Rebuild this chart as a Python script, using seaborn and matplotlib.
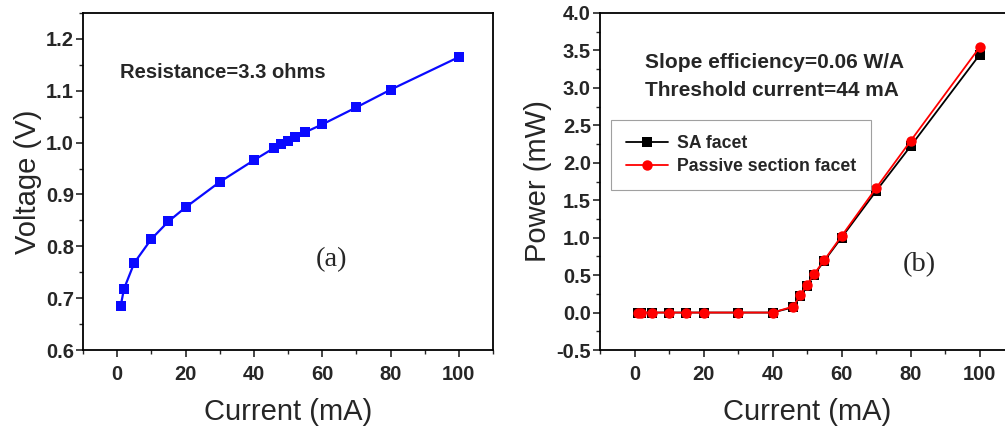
import numpy as np
import pandas as pd
import matplotlib
matplotlib.use("Agg")
import matplotlib.pyplot as plt
from matplotlib.ticker import MultipleLocator
import seaborn as sns

# Drive current (mA)
current = [1, 2, 5, 10, 15, 20, 30, 40, 46, 48, 50, 52, 55, 60, 70, 80, 100]
# Forward voltage (V)
voltage = [0.684, 0.718, 0.768, 0.814, 0.848, 0.875, 0.924, 0.966, 0.990, 0.997,
           1.003, 1.011, 1.020, 1.035, 1.068, 1.102, 1.165]
# Output power (mW) from each facet
power_sa = [0, 0, 0, 0, 0, 0, 0, 0, 0.07, 0.22, 0.36, 0.50, 0.69, 1.00, 1.62, 2.22, 3.44]
power_passive = [0, 0, 0, 0, 0, 0, 0, 0, 0.08, 0.23, 0.37, 0.51, 0.70, 1.02, 1.66, 2.29, 3.54]
series_names = ["SA facet", "Passive section facet"]

sns.set_style("ticks")
plt.rcParams["font.family"] = ["Liberation Sans", "DejaVu Sans"]
plt.rcParams["axes.linewidth"] = 1.3
plt.rcParams["axes.unicode_minus"] = False

fig = plt.figure(figsize=(10.05, 4.33), dpi=100)
W, H = 1005, 433
ax1 = fig.add_axes([83 / W, 1 - 350 / H, 410 / W, 337 / H])
ax2 = fig.add_axes([600 / W, 1 - 350 / H, 414 / W, 337 / H])

# (a) voltage vs current
iv = pd.DataFrame({"Current": current, "Voltage": voltage})
sns.lineplot(data=iv, x="Current", y="Voltage", ax=ax1, color="#0a0aff",
             marker="s", markersize=7, markeredgewidth=0, linewidth=1.6)
ax1.set_xlim(-10, 110)
ax1.set_ylim(0.6, 1.25)
ax1.xaxis.set_major_locator(MultipleLocator(20))
ax1.xaxis.set_minor_locator(MultipleLocator(10))
ax1.yaxis.set_minor_locator(MultipleLocator(0.05))
ax1.set_yticks([0.6, 0.7, 0.8, 0.9, 1.0, 1.1, 1.2])
ax1.set_yticklabels(["0.6", "0.7", "0.8", "0.9", "1.0", "1.1", "1.2"])
ax1.set_xlabel("Current (mA)", fontsize=21)
ax1.set_ylabel("Voltage (V)", fontsize=21)
ax1.text((120 - 83) / 410, 1 - (73 - 13) / 337, "Resistance=3.3 ohms",
         transform=ax1.transAxes, fontsize=14.5, fontweight="bold",
         va="center", ha="left")
ax1.text((331 - 83) / 410, 1 - (260 - 13) / 337, "(a)", transform=ax1.transAxes,
         fontsize=20.5, family="Liberation Serif", va="center", ha="center")

# (b) power vs current
li = pd.DataFrame({
    "Current": current * 2,
    "Power": power_sa + power_passive,
    "Facet": [series_names[0]] * len(current) + [series_names[1]] * len(current),
})
sns.lineplot(data=li, x="Current", y="Power", hue="Facet", style="Facet",
             palette={series_names[0]: "black", series_names[1]: "#ff0000"},
             markers={series_names[0]: "s", series_names[1]: "o"},
             dashes=False, markersize=7.5, markeredgewidth=0, linewidth=1.3, ax=ax2)
ax2.set_xlim(-10, 110)
ax2.set_ylim(-0.5, 4.0)
ax2.xaxis.set_major_locator(MultipleLocator(20))
ax2.xaxis.set_minor_locator(MultipleLocator(10))
ax2.yaxis.set_major_locator(MultipleLocator(0.5))
ax2.yaxis.set_minor_locator(MultipleLocator(0.25))
ax2.set_xlabel("Current (mA)", fontsize=21)
ax2.set_ylabel("Power (mW)", fontsize=21)
ax2.text((645 - 600) / 414, 1 - (63 - 13) / 337, "Slope efficiency=0.06 W/A",
         transform=ax2.transAxes, fontsize=15, fontweight="bold", va="center", ha="left")
ax2.text((645 - 600) / 414, 1 - (90 - 13) / 337, "Threshold current=44 mA",
         transform=ax2.transAxes, fontsize=15, fontweight="bold", va="center", ha="left")
ax2.text((919 - 600) / 414, 1 - (265 - 13) / 337, "(b)", transform=ax2.transAxes,
         fontsize=20.5, family="Liberation Serif", va="center", ha="center")
leg = ax2.legend(title=None, loc="upper left",
                 bbox_to_anchor=((611 - 600) / 414, 1 - (120 - 13) / 337),
                 fancybox=False, frameon=True, prop={"weight": "bold", "size": 12.7},
                 borderpad=0.85, handlelength=2.4, handletextpad=0.5,
                 labelspacing=0.35, borderaxespad=0)
leg.get_frame().set_edgecolor("#888888")
leg.get_frame().set_linewidth(0.8)

for ax in (ax1, ax2):
    ax.tick_params(axis="both", which="major", direction="out", length=5, width=1.2,
                   labelsize=14.5)
    ax.tick_params(axis="x", which="major", pad=6)
    ax.tick_params(axis="y", which="major", pad=1.5)
    ax.tick_params(axis="both", which="minor", direction="out", length=3, width=1.0)
    for lab in ax.get_xticklabels() + ax.get_yticklabels():
        lab.set_fontweight("bold")
    for s in ax.spines.values():
        s.set_visible(True)
        s.set_color("black")
    ax.xaxis.labelpad = 10
    ax.yaxis.labelpad = 3

fig.savefig("out.png", dpi=100)
